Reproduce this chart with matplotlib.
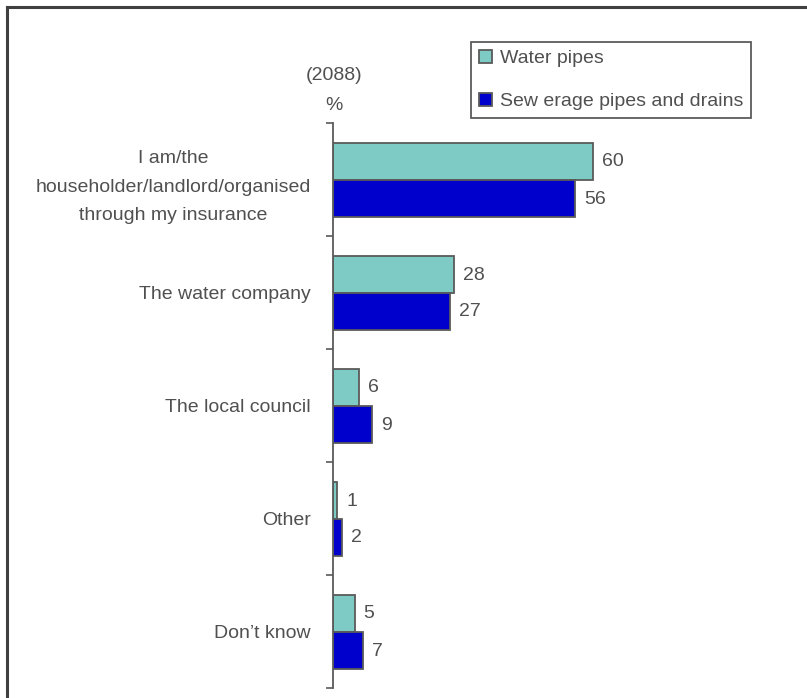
import numpy as np
import matplotlib
matplotlib.use('Agg')
import matplotlib.pyplot as plt
from matplotlib.lines import Line2D

plt.rcParams['font.family'] = ['Liberation Sans', 'DejaVu Sans']

categories = ['I am/the\nhouseholder/landlord/organised\nthrough my insurance',
              'The water company', 'The local council', 'Other', "Don\u2019t know"]
water = [60, 28, 6, 1, 5]
sewer = [56, 27, 9, 2, 7]
series_names = ['Water pipes', 'Sew erage pipes and drains']

teal = '#7dcbc4'
blue = '#0000cc'
edge = '#5a5a5a'
txt = '#505050'

W, H = 807, 698
fig = plt.figure(figsize=(W / 100, H / 100), dpi=100)
ax = fig.add_axes([333 / W, 1 - 688 / H, 433 / W, (688 - 123) / H])

y = np.arange(len(categories))
bh = 37 / 113
b1 = ax.barh(y - bh / 2, water, height=bh, color=teal, edgecolor=edge, linewidth=1.3,
             label=series_names[0])
b2 = ax.barh(y + bh / 2, sewer, height=bh, color=blue, edgecolor=edge, linewidth=1.3,
             label=series_names[1])

for bars, vals in [(b1, water), (b2, sewer)]:
    for rect, v in zip(bars, vals):
        ax.annotate(str(v), (rect.get_width(), rect.get_y() + rect.get_height() / 2),
                    xytext=(9, -1), textcoords='offset pixels', ha='left', va='center',
                    fontsize=14, color=txt)

ax.set_xlim(0, 100)
ax.set_ylim(len(categories) - 0.5, -0.5)
for s in ['top', 'right', 'bottom']:
    ax.spines[s].set_visible(False)
ax.spines['left'].set_color(edge)
ax.spines['left'].set_linewidth(1.3)
ax.set_xticks([])

ax.set_yticks(np.arange(len(categories) + 1) - 0.5)
ax.set_yticklabels([])
ax.tick_params(axis='y', which='major', length=5, width=1.2, color=edge)
ax.set_yticks(y, minor=True)
ax.set_yticklabels(categories, minor=True, fontsize=14, color=txt)
ax.tick_params(axis='y', which='minor', length=0, pad=16)
for lab in ax.get_yticklabels(minor=True):
    lab.set_multialignment('center')
    lab.set_linespacing(1.85)

fig.text(334 / W, 1 - 75 / H, '(2088)', ha='center', va='center', fontsize=14, color=txt)
fig.text(334 / W, 1 - 106 / H, '%', ha='center', va='center', fontsize=14, color=txt)

leg = fig.legend(handles=[b1, b2], loc='upper left', bbox_to_anchor=(471 / W, 1 - 42 / H),
                 borderaxespad=0, fontsize=14, frameon=True, fancybox=False,
                 labelspacing=1.3, handlelength=0.7, handleheight=0.7,
                 handletextpad=0.4, borderpad=0.4, labelcolor=txt)
leg.get_frame().set_edgecolor('#333333')
leg.get_frame().set_linewidth(1.3)

# frame lines on the top and left of the picture
fig.add_artist(Line2D([7 / W, 7 / W], [0, 1 - 7 / H], color='#404040', lw=2.2))
fig.add_artist(Line2D([7 / W, 1], [1 - 7 / H, 1 - 7 / H], color='#404040', lw=2.2))

fig.savefig('out.png', dpi=100)
